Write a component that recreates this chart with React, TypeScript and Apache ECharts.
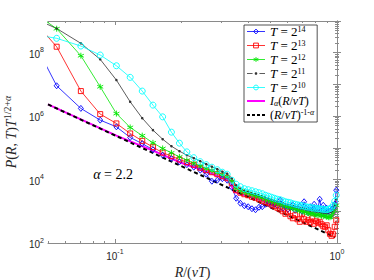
import React, { useEffect, useRef } from 'react';
import * as echarts from 'echarts';

// R/(vT) sample positions (bin centres)
const X = [
  0.0391, 0.0547, 0.0703, 0.0859, 0.1016, 0.1172, 0.1328, 0.1484, 0.1641, 0.1797,
  0.1953, 0.2109, 0.2266, 0.2422, 0.2578, 0.2734, 0.2891, 0.3047, 0.3203, 0.3359,
  0.3516, 0.3672, 0.3828, 0.3984, 0.4141, 0.4297, 0.4453, 0.4609, 0.4766, 0.4922,
  0.5078, 0.5234, 0.5391, 0.5547, 0.5703, 0.5859, 0.6016, 0.6172, 0.6328, 0.6484,
  0.6641, 0.6797, 0.6953, 0.7109, 0.7266, 0.7422, 0.7578, 0.7734, 0.7891, 0.8047,
  0.8203, 0.8359, 0.8516, 0.8672, 0.8828, 0.8984, 0.9141, 0.9297, 0.9453, 0.9609,
  0.9766, 0.9922,
];

// log10 of P(R,T) T^{1/2+alpha}
const LOG10_P_T14 = [
  8.937, 6.957, 6.244, 5.874, 5.663, 5.328, 5.132, 4.943, 4.769, 4.665,
  4.558, 4.469, 4.390, 4.296, 4.169, 3.948, 3.980, 4.027, 3.980, 3.759,
  3.411, 3.254, 3.175, 3.143, 3.080, 3.048, 3.127, 3.143, 3.222, 3.238,
  3.190, 3.222, 3.175, 3.348, 3.096, 3.159, 3.064, 3.111, 3.206, 3.032,
  3.080, 3.159, 3.001, 3.301, 3.096, 2.954, 3.143, 3.032, 3.222, 2.938,
  3.096, 3.380, 3.001, 3.190, 2.890, 3.096, 3.001, 2.969, 3.064, 3.096,
  3.222, 3.664,
];
const LOG10_P_T13 = [
  9.348, 8.189, 6.790, 6.064, 5.770, 5.454, 5.221, 5.022, 4.848, 4.738,
  4.633, 4.548, 4.469, 4.374, 4.296, 4.232, 4.169, 4.106, 4.043, 3.885,
  3.664, 3.585, 3.538, 3.506, 3.459, 3.427, 3.380, 3.332, 3.285, 3.254,
  3.206, 3.159, 3.111, 3.064, 3.001, 2.922, 2.969, 2.843, 2.780, 2.875,
  2.748, 2.669, 2.922, 2.748, 2.669, 2.717, 2.654, 2.780, 2.606, 2.685,
  2.638, 2.669, 2.590, 2.527, 2.511, 2.559, 2.401, 2.290, 2.227, 2.275,
  2.511, 2.717,
];
const LOG10_P_T12 = [
  9.474, 8.757, 7.905, 6.926, 6.080, 5.644, 5.385, 5.158, 4.981, 4.842,
  4.715, 4.611, 4.516, 4.422, 4.343, 4.280, 4.217, 4.153, 4.090, 3.948,
  3.727, 3.648, 3.601, 3.569, 3.522, 3.490, 3.459, 3.427, 3.380, 3.348,
  3.317, 3.285, 3.254, 3.222, 3.190, 3.159, 3.143, 3.111, 3.096, 3.064,
  3.048, 3.017, 3.001, 2.985, 2.969, 2.938, 2.922, 2.938, 2.906, 2.890,
  2.875, 2.906, 2.859, 2.843, 2.875, 2.827, 2.811, 2.811, 2.843, 2.938,
  3.032, 3.190,
];
const LOG10_P_T11 = [
  9.221, 8.764, 8.296, 7.791, 7.137, 6.452, 5.937, 5.559, 5.274, 5.053,
  4.895, 4.769, 4.674, 4.580, 4.485, 4.406, 4.327, 4.248, 4.185, 4.043,
  3.822, 3.711, 3.648, 3.617, 3.569, 3.538, 3.506, 3.475, 3.427, 3.396,
  3.364, 3.332, 3.301, 3.285, 3.254, 3.222, 3.206, 3.190, 3.159, 3.143,
  3.127, 3.111, 3.096, 3.080, 3.064, 3.048, 3.032, 3.032, 3.017, 3.001,
  3.001, 2.985, 2.969, 2.969, 2.954, 2.954, 2.969, 2.969, 3.001, 3.064,
  3.190, 3.380,
];
const LOG10_P_T10 = [
  8.621, 8.454, 8.211, 7.927, 7.589, 7.223, 6.790, 6.348, 5.978, 5.495,
  5.148, 4.873, 4.690, 4.564, 4.469, 4.390, 4.311, 4.232, 4.169, 3.980,
  3.853, 3.775, 3.711, 3.680, 3.648, 3.617, 3.585, 3.553, 3.506, 3.475,
  3.443, 3.411, 3.380, 3.364, 3.332, 3.301, 3.285, 3.269, 3.238, 3.222,
  3.206, 3.190, 3.175, 3.159, 3.143, 3.127, 3.127, 3.111, 3.096, 3.096,
  3.080, 3.080, 3.064, 3.064, 3.048, 3.048, 3.064, 3.080, 3.111, 3.190,
  3.317, 3.506,
];

// theory curve I_alpha(R/vT)
const I_X = [
  0.05, 0.1016, 0.1484, 0.1953, 0.2422, 0.2734, 0.3047, 0.32, 0.333, 0.3418,
  0.3652, 0.4058, 0.4498, 0.4994, 0.5829, 0.6811, 0.796, 0.8828, 0.9446, 0.9744,
  0.9917, 1.0,
];
const I_LOG10_P = [
  6.370, 5.385, 4.911, 4.548, 4.327, 4.185, 4.059, 3.996, 3.917, 3.632,
  3.553, 3.459, 3.364, 3.269, 3.143, 3.017, 2.906, 2.827, 2.812, 2.906,
  3.127, 3.317,
];

// asymptote (R/vT)^{-1-alpha}
const POW_X = [0.05, 0.98];
const POW_LOG10_P = [6.370, 2.18];

const X_MIN = 0.05;
const X_MAX = 1;
const X_MAJOR = [0.1, 1];
const X_MINOR = [0.05, 0.06, 0.07, 0.08, 0.09, 0.2, 0.3, 0.4, 0.5, 0.6, 0.7, 0.8, 0.9];
const Y_MIN_EXP = 2;
const Y_MAX_EXP = 9;
const Y_LABEL_EXP = [2, 4, 6, 8];
const MANTISSAS = [2, 3, 4, 5, 6, 7, 8, 9];

const SERIF = '"Liberation Serif", "DejaVu Serif", serif';
const SANS = '"Liberation Sans", Arial, sans-serif';

const LEGEND_TEXT: Record<string, string> = {
  T14: '{i|T}{n| = 2}{s|14}',
  T13: '{i|T}{n| = 2}{s|13}',
  T12: '{i|T}{n| = 2}{s|12}',
  T11: '{i|T}{n| = 2}{s|11}',
  T10: '{i|T}{n| = 2}{s|10}',
  I: '{i2|I}{sub|α}{n2|(}{i2|R}{n2|/}{i2|vT}{n2|)}',
  POW: '{n2|(}{i2|R}{n2|/}{i2|vT}{n2|)}{s|-1-}{si|α}',
};

const SERIES_COLORS: Record<string, string> = {
  T14: '#0000ff',
  T13: '#ff0000',
  T12: '#00e600',
  T11: '#333333',
  T10: '#00ffff',
  I: '#ff00ff',
  POW: '#000000',
};

const ASTERISK = 'path://M5,0L5,10M0.67,2.5L9.33,7.5M0.67,7.5L9.33,2.5';

export default function App() {
  const ref = useRef<HTMLDivElement>(null);

  useEffect(() => {
    if (!ref.current) return;
    const chart = echarts.init(ref.current, undefined, { renderer: 'svg' });

    const pairs = (xs: number[], ls: number[]) => xs.map((x, i) => [Math.log10(x), ls[i]]);
    const xMinLog = Math.log10(X_MIN);
    const xMaxLog = Math.log10(X_MAX);
    const xMajor = X_MAJOR.map((v) => Math.log10(v));
    const xMinor = X_MINOR.map((v) => Math.log10(v));
    const yMajor: number[] = [];
    for (let e = Y_MIN_EXP; e <= Y_MAX_EXP; e++) yMajor.push(e);
    const yMinor: number[] = [];
    for (let e = Y_MIN_EXP; e < Y_MAX_EXP; e++) MANTISSAS.forEach((m) => yMinor.push(e + Math.log10(m)));

    const axisColor = '#8a8a8a';
    const tickRich = {
      b: { fontSize: 10, fontFamily: SANS, color: '#262626', padding: [3, 0, 0, 0] },
      s: { fontSize: 7, fontFamily: SANS, color: '#262626', padding: [0, 0, 6, 0] },
    };
    const expFmt = (v: number) => `{b|10}{s|${Math.round(v)}}`;

    const xBase = (position: 'top' | 'bottom', ticks: number[], len: number, labels: boolean, line: boolean) => ({
      type: 'value',
      gridIndex: 0,
      position,
      min: xMinLog,
      max: xMaxLog,
      splitLine: { show: false },
      axisLine: { show: line, lineStyle: { color: axisColor, width: 1 } },
      axisTick: { show: true, inside: true, length: len, customValues: ticks, lineStyle: { color: axisColor, width: 1 } },
      axisLabel: labels
        ? { show: true, customValues: xMajor, formatter: expFmt, rich: tickRich, margin: 5 }
        : { show: false },
    });
    const yBase = (position: 'left' | 'right', ticks: number[], len: number, labels: boolean, line: boolean) => ({
      type: 'value',
      gridIndex: 0,
      position,
      min: Y_MIN_EXP,
      max: Y_MAX_EXP,
      splitLine: { show: false },
      axisLine: { show: line, lineStyle: { color: axisColor, width: 1 } },
      axisTick: { show: true, inside: true, length: len, customValues: ticks, lineStyle: { color: axisColor, width: 1 } },
      axisLabel: labels
        ? { show: true, customValues: Y_LABEL_EXP, formatter: expFmt, rich: tickRich, margin: 4 }
        : { show: false },
    });

    const xAxes: any[] = [
      {
        ...xBase('bottom', xMajor, 4, true, true),
        name: '{i|R}{n|/(}{i|vT}{n|)}',
        nameLocation: 'middle',
        nameGap: 19,
        nameTextStyle: {
          rich: {
            i: { fontFamily: SERIF, fontStyle: 'italic', fontSize: 14, color: '#262626' },
            n: { fontFamily: SERIF, fontSize: 14, color: '#262626' },
          },
        },
      },
      xBase('bottom', xMinor, 2, false, false),
      xBase('top', xMajor, 4, false, true),
      xBase('top', xMinor, 2, false, false),
    ];
    const yAxes: any[] = [
      {
        ...yBase('left', yMajor, 4, true, true),
        name: '{i|P}{n|(}{i|R}{n|, }{i|T}{n|)}{i|T}{s|1/2+}{si|α}',
        nameLocation: 'middle',
        nameRotate: 90,
        nameGap: 27,
        nameTextStyle: {
          rich: {
            i: { fontFamily: SERIF, fontStyle: 'italic', fontSize: 14, color: '#262626' },
            n: { fontFamily: SERIF, fontSize: 14, color: '#262626' },
            s: { fontFamily: SERIF, fontSize: 10, color: '#262626', padding: [0, 0, 7, 0] },
            si: { fontFamily: SERIF, fontStyle: 'italic', fontSize: 10, color: '#262626', padding: [0, 0, 7, 0] },
          },
        },
      },
      yBase('left', yMinor, 2, false, false),
      yBase('right', yMajor, 4, false, true),
      yBase('right', yMinor, 2, false, false),
    ];

    const hollow = (color: string) => ({ color: 'rgba(255,255,255,0)', borderColor: color, borderWidth: 0.9 });
    const filled = (color: string) => ({ color, borderColor: color, borderWidth: 0 });
    const noMark = { color: 'rgba(255,255,255,0)', borderColor: 'rgba(255,255,255,0)', borderWidth: 0 };

    const dataSeries = (name: string, logs: number[], symbol: string, size: number | number[], isFilled: boolean) => {
      const color = SERIES_COLORS[name];
      return {
        name,
        type: 'line',
        xAxisIndex: 0,
        yAxisIndex: 0,
        data: pairs(X, logs),
        symbol,
        symbolSize: size,
        showAllSymbol: true,
        clip: true,
        lineStyle: { color, width: 0.8 },
        itemStyle: isFilled ? filled(color) : hollow(color),
        emphasis: { disabled: true },
      };
    };

    const legendItem = (name: string, itemStyle: any, dashed = false, width = 0.8) => ({
      name,
      itemStyle,
      lineStyle: { color: SERIES_COLORS[name], width, type: dashed ? [3, 2] : 'solid' },
    });

    const option: any = {
      animation: false,
      backgroundColor: '#ffffff',
      grid: { left: 48, top: 21, width: 289, height: 222, containLabel: false, outerBoundsMode: 'none' },
      xAxis: xAxes,
      yAxis: yAxes,
      legend: {
        orient: 'vertical',
        left: 244,
        top: 25,
        itemWidth: 18,
        itemHeight: 6,
        itemGap: 1,
        padding: [0, 3, 1, 2],
        borderColor: '#262626',
        borderWidth: 0.8,
        backgroundColor: '#ffffff',
        selectedMode: false,
        data: [
          legendItem('T14', hollow(SERIES_COLORS.T14)),
          legendItem('T13', hollow(SERIES_COLORS.T13)),
          legendItem('T12', hollow(SERIES_COLORS.T12)),
          legendItem('T11', { color: SERIES_COLORS.T11, borderColor: '#ffffff', borderWidth: 2.2 }),
          legendItem('T10', hollow(SERIES_COLORS.T10)),
          legendItem('I', noMark, false, 2),
          legendItem('POW', noMark, true, 2),
        ],
        formatter: (name: string) => LEGEND_TEXT[name],
        textStyle: {
          color: '#000',
          rich: {
            i: { fontFamily: SERIF, fontStyle: 'italic', fontSize: 13, color: '#000' },
            n: { fontFamily: SERIF, fontSize: 13, color: '#000' },
            i2: { fontFamily: SERIF, fontStyle: 'italic', fontSize: 12, color: '#000' },
            n2: { fontFamily: SERIF, fontSize: 12, color: '#000' },
            s: { fontFamily: SERIF, fontSize: 8, color: '#000', padding: [0, 0, 5, 0] },
            si: { fontFamily: SERIF, fontStyle: 'italic', fontSize: 8, color: '#000', padding: [0, 0, 5, 0] },
            sub: { fontFamily: SERIF, fontStyle: 'italic', fontSize: 8, color: '#000', padding: [5, 0, 0, 0] },
          },
        },
      },
      graphic: [
        {
          type: 'text',
          x: 113,
          y: 174,
          style: {
            text: '{i|α}{n| = 2.2}',
            align: 'center',
            verticalAlign: 'middle',
            rich: {
              i: { fontFamily: SERIF, fontStyle: 'italic', fontSize: 14, fill: '#000' },
              n: { fontFamily: SERIF, fontSize: 14, fill: '#000' },
            },
          },
        },
      ],
      series: [
        dataSeries('T14', LOG10_P_T14, 'diamond', [5, 6], false),
        dataSeries('T13', LOG10_P_T13, 'rect', 5, false),
        dataSeries('T12', LOG10_P_T12, ASTERISK, 6, false),
        dataSeries('T11', LOG10_P_T11, 'circle', 2.5, true),
        dataSeries('T10', LOG10_P_T10, 'circle', 6, false),
        {
          name: 'I',
          type: 'line',
          data: pairs(I_X, I_LOG10_P),
          symbol: 'none',
          clip: true,
          lineStyle: { color: SERIES_COLORS.I, width: 2 },
          itemStyle: { color: SERIES_COLORS.I },
          emphasis: { disabled: true },
        },
        {
          name: 'POW',
          type: 'line',
          data: pairs(POW_X, POW_LOG10_P),
          symbol: 'none',
          clip: true,
          lineStyle: { color: SERIES_COLORS.POW, width: 2, type: [4, 3] },
          itemStyle: { color: SERIES_COLORS.POW },
          emphasis: { disabled: true },
        },
      ],
    };

    chart.setOption(option);
    return () => chart.dispose();
  }, []);

  return (
    <div
      ref={ref}
      style={{ position: 'fixed', left: 0, top: 0, width: 374, height: 280 }}
    />
  );
}
